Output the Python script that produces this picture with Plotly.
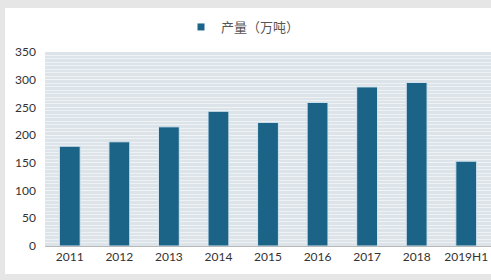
import plotly.graph_objects as go

categories = ["2011", "2012", "2013", "2014", "2015", "2016", "2017", "2018", "2019H1"]
values = [180, 188, 215, 243, 223, 259, 287, 295, 153]
series_name = "产量（万吨）"
y_ticks = [0, 50, 100, 150, 200, 250, 300, 350]

W, H = 491, 280
ML, MR, MT, MB = 45, 0, 52, 34
pw, ph = W - ML - MR, H - MT - MB
BAR_COLOR = "#1b6488"

def px_x(p):
    return (p - ML) / pw

def px_y(p):
    return (H - MB - p) / ph

fig = go.Figure()
fig.add_trace(go.Bar(
    x=categories, y=values, name=series_name,
    marker=dict(color=BAR_COLOR, line=dict(color="#d4e4ee", width=1)),
    showlegend=False,
))
# legend-only entry with a small square marker
fig.add_trace(go.Scatter(
    x=[None], y=[None], mode="markers", name=series_name,
    marker=dict(symbol="square", size=7, color=BAR_COLOR),
    showlegend=True,
))

fig.update_layout(
    width=W, height=H,
    margin=dict(l=ML, r=MR, t=MT, b=MB),
    paper_bgcolor="#e6e6e6",
    plot_bgcolor="#dde4e9",
    bargap=0.58,
    font=dict(family="Lato, 'Noto Sans CJK SC', sans-serif", size=12, color="#333333"),
    legend=dict(
        orientation="h", x=px_x(181), xanchor="left", y=px_y(27), yanchor="middle",
        bgcolor="#ffffff", borderwidth=0,
        font=dict(family="'Noto Sans CJK SC', sans-serif", size=13, color="#555555"),
        itemwidth=30, tracegroupgap=0,
    ),
    shapes=[
        dict(type="rect", xref="paper", yref="paper",
             x0=px_x(5), x1=px_x(W + 2), y0=px_y(274), y1=px_y(8),
             fillcolor="#ffffff", line=dict(width=0), layer="below"),
        dict(type="rect", xref="paper", yref="paper",
             x0=0, x1=1, y0=0, y1=1,
             fillcolor="#dde4e9", line=dict(width=0), layer="below"),
    ],
)

fig.update_xaxes(
    type="category", showgrid=False, showline=True, linecolor="#b8b8b8", linewidth=1,
    ticks="", tickfont=dict(size=12, color="#333333"),
)
fig.update_yaxes(
    range=[0, 350], tickvals=y_ticks, showline=False, zeroline=False,
    showgrid=True, gridcolor="#f2f5f7", gridwidth=1,
    minor=dict(dtick=6.25, showgrid=True, gridcolor="#eef2f5", gridwidth=1),
    tickfont=dict(size=12, color="#333333"), ticks="", ticklabelstandoff=8,
)

fig.write_html("out.html")
